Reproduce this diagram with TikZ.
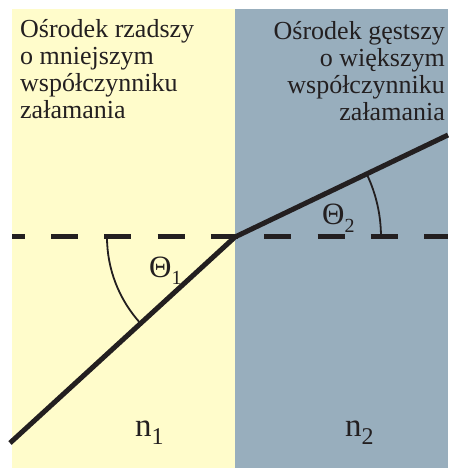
\documentclass[tikz,border=0pt]{standalone}
\usepackage{fontspec}
\setmainfont{Liberation Serif}
\definecolor{paleyellow}{RGB}{255,252,203}
\definecolor{greyblue}{RGB}{152,174,189}
\definecolor{inkblack}{RGB}{35,31,32}
\begin{document}
\begin{tikzpicture}[x=1pt,y=1pt,
  ray/.style={draw=inkblack,line width=5pt},
  normalline/.style={draw=inkblack,line width=5pt,dash pattern=on 27pt off 26.3pt,dash phase=14.3pt},
  anglearc/.style={draw=inkblack,line width=1.8pt},
  medtext/.style={inner sep=0pt,font=\fontsize{26}{27}\selectfont,text=inkblack},
  anglelabel/.style={inner sep=0pt,font=\fontsize{31}{31}\selectfont,text=inkblack,anchor=base west},
  indexlabel/.style={inner sep=0pt,font=\fontsize{33}{33}\selectfont,text=inkblack,anchor=base west}]
\useasboundingbox (0,0) rectangle (448,468);
\fill[white] (0,0) rectangle (448,468);
\fill[paleyellow] (12,0) rectangle (235,459);
\fill[greyblue] (235,0) rectangle (448,459);
% geometry
\coordinate (O) at (235,231);
\coordinate (A) at (10,25);
\coordinate (B) at (448,333);
\coordinate (L) at (12,231);
\coordinate (R) at (448,231);
% normal (dashed) line
\draw[normalline] (L) -- (R);
% rays
\draw[ray] (A) -- (O) -- (B);
% angle arcs
\draw[anglearc] (O) ++(180:128) arc[start angle=180,end angle=222.5,radius=128];
\draw[anglearc] (O) ++(0:146) arc[start angle=0,end angle=25.6,radius=146];
% texts
\node[medtext,align=left,anchor=base west] (lefttext) at (20,349.5)
  {Ośrodek rzadszy\\o mniejszym\\współczynniku\\załamania};
\node[medtext,align=right,anchor=base east] (righttext) at (445,347)
  {Ośrodek gęstszy\\o większym\\współczynniku\\załamania};
\node[anglelabel] (th1) at (149,190) {Θ\raisebox{-7pt}{\fontsize{20}{20}\selectfont 1}};
\node[anglelabel] (th2) at (322,243) {Θ\raisebox{-8pt}{\fontsize{20}{20}\selectfont 2}};
\node[indexlabel] (n1) at (135,31) {n\raisebox{-8pt}{\fontsize{24}{24}\selectfont 1}};
\node[indexlabel] (n2) at (345,31) {n\raisebox{-8pt}{\fontsize{24}{24}\selectfont 2}};
\end{tikzpicture}
\end{document}
